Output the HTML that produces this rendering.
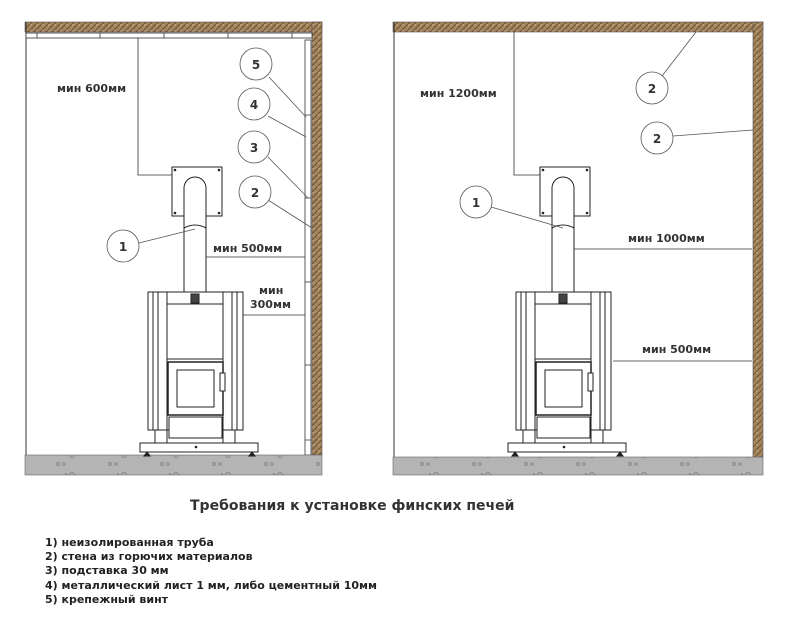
<!DOCTYPE html>
<html><head><meta charset="utf-8"><style>
html,body{margin:0;padding:0;background:#fff;}
svg{display:block;}
</style></head><body>
<svg width="790" height="630" viewBox="0 0 790 630" xmlns="http://www.w3.org/2000/svg" font-family="'DejaVu Sans','Liberation Sans',sans-serif">
<defs>
<pattern id="wood" width="6" height="6" patternUnits="userSpaceOnUse">
<rect width="6" height="6" fill="#a3845c"/>
<path d="M0 6L6 0" stroke="#6e5235" stroke-width="1"/>
<path d="M0 2L2 0" stroke="#c8ad88" stroke-width="0.8"/>
</pattern>
<pattern id="floor" width="52" height="20" patternUnits="userSpaceOnUse">
<rect width="52" height="20" fill="#b4b4b4"/>
<circle cx="6" cy="4" r="1.5" fill="none" stroke="#777" stroke-width="0.7"/>
<circle cx="12" cy="4" r="1.2" fill="none" stroke="#777" stroke-width="0.7"/>
<circle cx="20" cy="15" r="2.5" fill="none" stroke="#777" stroke-width="0.7"/>
<circle cx="14" cy="14" r="0.8" fill="#777"/>
</pattern>
<g id="stove" fill="none" stroke="#222" stroke-width="1">
<rect x="172" y="167" width="50" height="49" fill="#fff"/>
<circle cx="175" cy="170" r="0.8" fill="#222"/><circle cx="219" cy="170" r="0.8" fill="#222"/>
<circle cx="175" cy="213" r="0.8" fill="#222"/><circle cx="219" cy="213" r="0.8" fill="#222"/>
<path d="M184 292V188A11 11 0 0 1 206 188V292" fill="#fff"/>
<path d="M184 228Q195 222 206 228"/>
<rect x="148" y="292" width="95" height="138" fill="#fff"/>
<path d="M153 292V430M158 292V430M167 292V430M223 292V430M232 292V430M237 292V430"/>
<path d="M167 304H223M167 359H223"/>
<rect x="191" y="294" width="8" height="9" fill="#444"/>
<rect x="168" y="362" width="55" height="53" stroke-width="1.5"/>
<rect x="177" y="370" width="37" height="37"/>
<rect x="220" y="373" width="5" height="18" fill="#fff"/>
<rect x="169" y="417" width="53" height="21" fill="#fff"/>
<path d="M155 430V443M167 430V443M223 430V443M235 430V443"/>
<rect x="140" y="443" width="118" height="9" fill="#fff"/>
<circle cx="196" cy="447" r="0.8" fill="#222"/>
<path d="M147 452l-3 4h6zM252 452l-3 4h6z" fill="#222"/>
</g>
</defs>

<rect x="25" y="22" width="297" height="10" fill="url(#wood)" stroke="#555" stroke-width="0.6"/>
<rect x="312" y="22" width="10" height="433" fill="url(#wood)" stroke="#555" stroke-width="0.6"/>
<path d="M26 22V455" stroke="#333" stroke-width="1"/>
<rect x="26" y="33" width="286" height="5" fill="#fff" stroke="#333" stroke-width="0.8"/>
<path d="M37 33v5M100 33v5M164 33v5M228 33v5M292 33v5" stroke="#333" stroke-width="0.8"/>
<rect x="305" y="40" width="6" height="415" fill="#fff" stroke="#333" stroke-width="0.8"/>
<path d="M305 115h6M305 198h6M305 282h6M305 365h6M305 440h6" stroke="#333" stroke-width="0.8"/>
<rect x="25" y="455" width="297" height="20" fill="url(#floor)" stroke="#666" stroke-width="0.6"/>
<use href="#stove"/>
<path d="M138 38V175H172" stroke="#333" stroke-width="0.8" fill="none"/>
<text x="57" y="92" font-size="11" font-weight="bold" fill="#333">мин 600мм</text>
<path d="M206 257H305" stroke="#333" stroke-width="0.8"/>
<text x="213" y="252" font-size="11" font-weight="bold" fill="#333">мин 500мм</text>
<path d="M243 315H305" stroke="#333" stroke-width="0.8"/>
<text x="259" y="294" font-size="11" font-weight="bold" fill="#333">мин</text>
<text x="250" y="308" font-size="11" font-weight="bold" fill="#333">300мм</text>
<g fill="#fff" stroke="#555" stroke-width="0.8">
<path d="M269 77L306 117M268 116L306 137M268 157L308 198M268 200L312 228M139 243L195 229" fill="none"/>
<circle cx="256" cy="64" r="16"/><circle cx="254" cy="104" r="16"/>
<circle cx="254" cy="147" r="16"/><circle cx="255" cy="192" r="16"/>
<circle cx="123" cy="246" r="16"/>
</g>
<g font-size="12" font-weight="bold" fill="#333" text-anchor="middle">
<text x="256" y="69">5</text><text x="254" y="109">4</text><text x="254" y="152">3</text><text x="255" y="197">2</text><text x="123" y="251">1</text>
</g>

<rect x="393" y="22" width="370" height="10" fill="url(#wood)" stroke="#555" stroke-width="0.6"/>
<rect x="753" y="22" width="10" height="435" fill="url(#wood)" stroke="#555" stroke-width="0.6"/>
<path d="M394 22V457" stroke="#333" stroke-width="1"/>
<rect x="393" y="457" width="370" height="18" fill="url(#floor)" stroke="#666" stroke-width="0.6"/>
<use href="#stove" transform="translate(368 0)"/>
<path d="M514 32V175H540" stroke="#333" stroke-width="0.8" fill="none"/>
<text x="420" y="97" font-size="11" font-weight="bold" fill="#333">мин 1200мм</text>
<path d="M574 249H752" stroke="#333" stroke-width="0.8"/>
<text x="628" y="242" font-size="11" font-weight="bold" fill="#333">мин 1000мм</text>
<path d="M613 361H752" stroke="#333" stroke-width="0.8"/>
<text x="642" y="353" font-size="11" font-weight="bold" fill="#333">мин 500мм</text>
<g fill="#fff" stroke="#555" stroke-width="0.8">
<path d="M662 76L696 32M673 136L753 130M491 207L563 228" fill="none"/>
<circle cx="652" cy="88" r="16"/><circle cx="657" cy="138" r="16"/><circle cx="476" cy="202" r="16"/>
</g>
<g font-size="12" font-weight="bold" fill="#333" text-anchor="middle">
<text x="652" y="93">2</text><text x="657" y="143">2</text><text x="476" y="207">1</text>
</g>

<text x="190" y="510" font-size="14" font-weight="bold" fill="#333">Требования к установке финских печей</text>
<g font-size="11" font-weight="bold" fill="#222">
<text x="45" y="546">1) неизолированная труба</text>
<text x="45" y="560">2) стена из горючих материалов</text>
<text x="45" y="574">3) подставка 30 мм</text>
<text x="45" y="589">4) металлический лист 1 мм, либо цементный 10мм</text>
<text x="45" y="603">5) крепежный винт</text>
</g>
</svg>
</body></html>
